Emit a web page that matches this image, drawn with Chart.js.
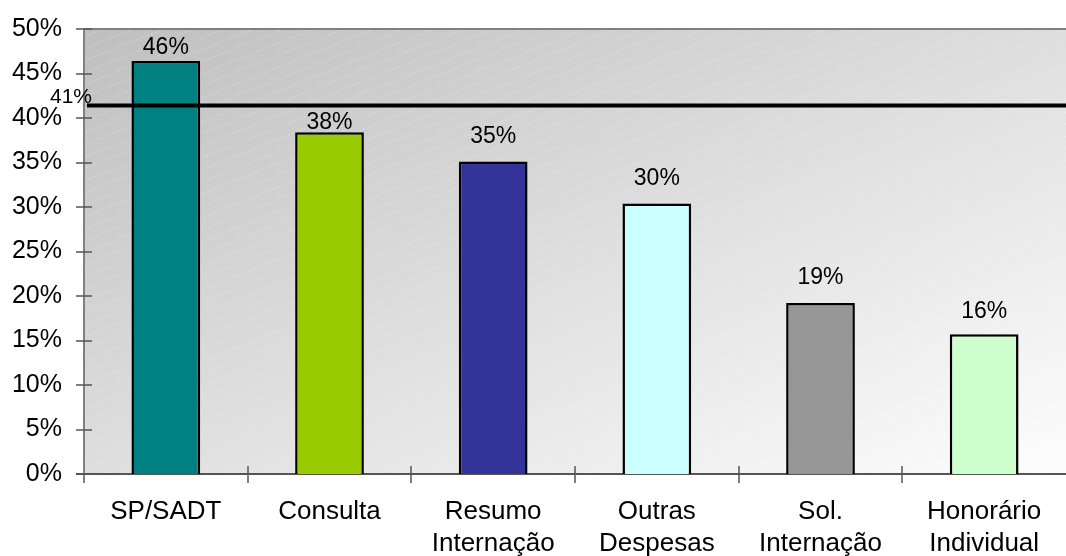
<!DOCTYPE html>
<html>
<head>
<meta charset="utf-8">
<script src="https://cdn.jsdelivr.net/npm/chart.js@4.4.0/dist/chart.umd.min.js"></script>
<style>
  html, body { margin: 0; padding: 0; background: #fff; }
  #wrap { width: 1066px; height: 556px; }
</style>
</head>
<body>
<div id="wrap"><canvas id="chart" width="1066" height="556"></canvas></div>
<script>
const categories = [
    ['SP/SADT'],
    ['Consulta'],
    ['Resumo', 'Internação'],
    ['Outras', 'Despesas'],
    ['Sol.', 'Internação'],
    ['Honorário', 'Individual']
];
const shares = [46.4, 38.4, 35.1, 30.4, 19.2, 15.7];
const barColors = ['#008080', '#99CC00', '#333399', '#CCFFFF', '#969696', '#CCFFCC'];
const averageLine = [41.4];
const yTicks = [0, 5, 10, 15, 20, 25, 30, 35, 40, 45, 50];

const FONT = '"Liberation Sans", Arial, sans-serif';
Chart.defaults.font.family = FONT;
Chart.defaults.color = '#000';

const pct = v => Math.round(v) + '%';

// gradient + faint diagonal hatching behind the bars, then the axis frame
const plotBackground = {
    id: 'plotBackground',
    beforeDatasetsDraw(chart) {
        const { ctx, chartArea: a, scales } = chart;
        const w = a.right - a.left, h = a.bottom - a.top;
        const k = 2 * w * h / (w * w + h * h);
        const g = ctx.createLinearGradient(a.left, a.top, a.left + h * k, a.top + w * k);
        g.addColorStop(0, '#bfbfbf');
        g.addColorStop(1, '#fdfdfd');
        ctx.save();
        ctx.fillStyle = g;
        ctx.fillRect(a.left, a.top, w, h);

        ctx.beginPath();
        ctx.rect(a.left, a.top, w, h);
        ctx.clip();
        ctx.strokeStyle = 'rgba(255,255,255,0.3)';
        ctx.lineWidth = 1;
        ctx.setLineDash([2, 2]);
        const slope = 0.4;
        for (let x0 = a.left - h / slope - 40; x0 < a.right; x0 += 30) {
            ctx.beginPath();
            ctx.moveTo(x0, a.bottom);
            ctx.lineTo(x0 + h / slope, a.top);
            ctx.stroke();
        }
        ctx.restore();

        ctx.save();
        ctx.strokeStyle = '#808080';
        ctx.lineWidth = 2;
        ctx.beginPath();
        ctx.moveTo(a.left, a.top);
        ctx.lineTo(a.right, a.top);
        ctx.moveTo(a.left, a.top);
        ctx.lineTo(a.left, a.bottom);
        ctx.stroke();

        ctx.strokeStyle = '#555';
        ctx.beginPath();
        ctx.moveTo(a.left - 8, a.bottom);
        ctx.lineTo(a.right, a.bottom);
        ctx.stroke();

        ctx.lineWidth = 1.5;
        ctx.beginPath();
        yTicks.forEach(v => {
            const y = Math.round(scales.y.getPixelForValue(v));
            ctx.moveTo(a.left - 8, y);
            ctx.lineTo(a.left + 8, y);
        });
        const step = w / categories.length;
        for (let i = 0; i < categories.length; i++) {
            const x = Math.round(a.left + i * step);
            ctx.moveTo(x, i === 0 ? a.bottom : a.bottom - 8);
            ctx.lineTo(x, a.bottom + 9);
        }
        ctx.stroke();
        ctx.restore();
    }
};

// value labels, the average line and its label
const barAnnotations = {
    id: 'barAnnotations',
    afterDatasetsDraw(chart) {
        const { ctx, chartArea: a, scales } = chart;
        const bars = chart.getDatasetMeta(0).data;
        const lift = [13, 10, 25, 25, 25, 23];
        ctx.save();
        ctx.font = '23px ' + FONT;
        ctx.fillStyle = '#000';
        ctx.textAlign = 'center';
        ctx.textBaseline = 'middle';
        bars.forEach((bar, i) => {
            ctx.fillText(pct(shares[i]), bar.x, bar.y - lift[i]);
        });

        const y = scales.y.getPixelForValue(averageLine[0]);
        ctx.strokeStyle = '#000';
        ctx.lineWidth = 4;
        ctx.beginPath();
        ctx.moveTo(a.left + 3, y);
        ctx.lineTo(a.right, y);
        ctx.stroke();

        ctx.font = '21px ' + FONT;
        ctx.fillText(pct(averageLine[0]), a.left - 13, y - 8);
        ctx.restore();
    }
};

new Chart(document.getElementById('chart'), {
    type: 'bar',
    data: {
        labels: categories,
        datasets: [{
            data: shares,
            backgroundColor: barColors,
            borderColor: '#000',
            borderWidth: 2.5,
            categoryPercentage: 1,
            barPercentage: 0.42
        }]
    },
    options: {
        responsive: false,
        animation: false,
        layout: { padding: { top: 29, right: 0, left: 0, bottom: 0 } },
        plugins: {
            legend: { display: false },
            tooltip: { enabled: false }
        },
        scales: {
            x: {
                grid: { display: false, drawTicks: false },
                border: { display: false },
                ticks: {
                    font: { size: 26, lineHeight: 1.22 },
                    color: '#000',
                    padding: 22,
                    maxRotation: 0,
                    autoSkip: false
                },
                afterFit(scale) {
                    scale.height = 82;
                    scale.paddingLeft = 0;
                    scale.paddingRight = 0;
                }
            },
            y: {
                min: 0,
                max: 50,
                grid: { display: false, drawTicks: false },
                border: { display: false },
                ticks: {
                    stepSize: 5,
                    font: { size: 25 },
                    color: '#000',
                    padding: 22,
                    callback: v => v + '%'
                },
                afterFit(scale) {
                    scale.width = 84;
                    scale.paddingTop = 0;
                    scale.paddingBottom = 0;
                }
            }
        }
    },
    plugins: [plotBackground, barAnnotations]
});
</script>
</body>
</html>
